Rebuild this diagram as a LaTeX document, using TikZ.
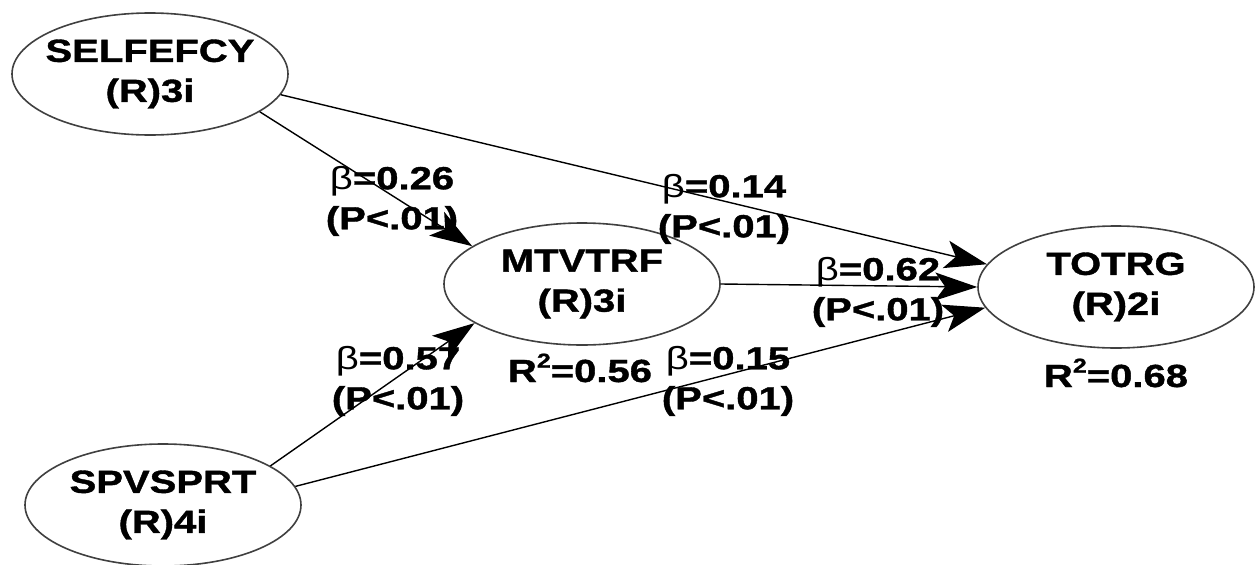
\documentclass[tikz,border=0pt]{standalone}
\usepackage{fontspec}
\setmainfont{Liberation Sans}[FakeStretch=1.25, BoldFeatures={FakeBold=1.2}]
\usetikzlibrary{arrows.meta,shapes.geometric}
\begin{document}
\begin{tikzpicture}[x=1pt,y=-1pt,
  latent/.style={ellipse, draw=black!75, line width=1.6pt, minimum width=276pt, minimum height=122pt, inner sep=0pt},
  ntext/.style={font=\fontsize{32}{40}\selectfont\bfseries, align=center, inner sep=0pt},
  coef/.style={font=\fontsize{32}{40}\selectfont\bfseries, align=center, inner sep=0pt},
  rsq/.style={font=\fontsize{32}{40}\selectfont\bfseries, inner sep=0pt, anchor=base},
  conn/.style={line width=1.4pt, draw=black, -{Stealth[length=42pt,width=28pt,inset=10pt]}}]
\fill[white] (0,0) rectangle (1259,565);
\useasboundingbox (0,0) rectangle (1259,565);

\node[latent] (S) at (150,74) {};
\node[latent] (M) at (582,284) {};
\node[latent] (T) at (1116,287) {};
\node[latent] (P) at (163,505) {};

\draw[conn] (S.-19) -- (M.161);
\draw[conn] (S.-9) -- (T.170);
\draw[conn] (M.east) -- (T.west);
\draw[conn] (P.20) -- (M.200);
\draw[conn] (P.8) -- (T.189);

\node[ntext] (St) at (S.center) {SELFEFCY\\(R)3i};
\node[ntext] (Mt) at (M.center) {MTVTRF\\(R)3i};
\node[ntext] (Tt) at (T.center) {TOTRG\\(R)2i};
\node[ntext] (Pt) at (P.center) {SPVSPRT\\(R)4i};

\node[coef] (c1) at (392,201) {{\mdseries β}=0.26\\(P<.01)};
\node[coef] (c2) at (724,209) {{\mdseries β}=0.14\\(P<.01)};
\node[coef] (c3) at (878,292) {{\mdseries β}=0.62\\(P<.01)};
\node[coef] (c4) at (398,381) {{\mdseries β}=0.57\\(P<.01)};
\node[coef] (c5) at (728,381) {{\mdseries β}=0.15\\(P<.01)};

\node[rsq] (r1) at (580,382) {R\raisebox{0.45em}{\fontsize{20}{20}\selectfont 2}=0.56};
\node[rsq] (r2) at (1116,387) {R\raisebox{0.45em}{\fontsize{20}{20}\selectfont 2}=0.68};
\end{tikzpicture}
\end{document}
